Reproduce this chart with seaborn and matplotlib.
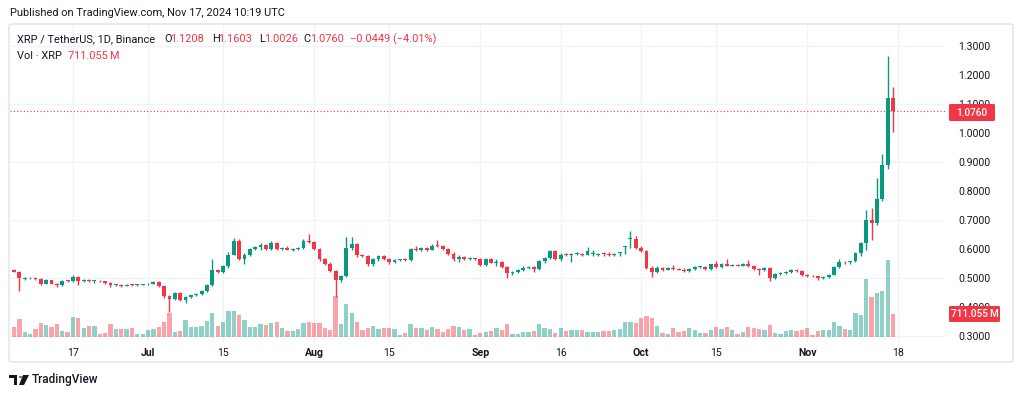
import numpy as np
import pandas as pd
import matplotlib
matplotlib.use('Agg')
import matplotlib.pyplot as plt
import matplotlib.transforms as mtransforms
from matplotlib.patches import FancyBboxPatch, Rectangle, Circle, Polygon
import seaborn as sns

# XRP / TetherUS daily candles, 6 Jun 2024 .. 17 Nov 2024
start_date = '2024-06-06'
opens = [
    # Jun 6-30
    .527, .522, .496, .499, .500, .496, .481, .492, .480, .475, .492, .490, .503, .491, .493, .489, .490, .488, .483, .476, .477, .473, .477, .476, .477,
    # Jul
    .478, .481, .487, .472, .437, .426, .449, .424, .435, .440, .444, .455, .476, .527, .521, .540, .581, .628, .566, .580, .600, .606, .613, .600, .621, .600, .603, .598, .601, .604, .628,
    # Aug
    .624, .600, .565, .550, .523, .494, .507, .602, .617, .579, .575, .547, .566, .575, .566, .555, .561, .565, .562, .601, .597, .602, .597, .612, .611, .601, .584, .565, .573, .566, .568,
    # Sep
    .566, .546, .566, .553, .556, .539, .516, .521, .527, .536, .539, .530, .558, .570, .593, .566, .581, .579, .582, .583, .580, .583, .579, .586, .584, .579, .586, .607, .636, .636,
    # Oct
    .604, .593, .536, .519, .536, .528, .535, .532, .529, .525, .532, .538, .539, .531, .547, .539, .548, .543, .546, .543, .548, .542, .531, .526, .535, .500, .514, .518, .521, .529, .524,
    # Nov 1-17
    .512, .508, .506, .500, .502, .512, .539, .556, .554, .558, .587, .620, .700, .688, .771, .890, 1.1208,
]
highs = [
    .531, .525, .502, .503, .503, .499, .496, .494, .483, .492, .494, .512, .506, .496, .497, .493, .492, .490, .485, .480, .479, .479, .481, .479, .480,
    .484, .490, .489, .474, .441, .452, .452, .438, .443, .447, .460, .480, .567, .532, .545, .590, .638, .636, .585, .604, .610, .620, .617, .627, .624, .606, .610, .604, .607, .633, .653,
    .627, .602, .568, .556, .527, .512, .642, .640, .620, .584, .580, .569, .578, .580, .570, .564, .567, .570, .603, .612, .606, .606, .616, .630, .614, .604, .588, .578, .577, .571, .570,
    .568, .569, .570, .565, .560, .542, .524, .530, .540, .543, .542, .562, .574, .596, .596, .585, .586, .585, .590, .586, .608, .595, .586, .588, .590, .587, .590, .610, .662, .645,
    .612, .598, .540, .540, .538, .537, .546, .535, .533, .535, .541, .542, .541, .550, .559, .552, .566, .550, .549, .551, .562, .546, .535, .538, .538, .516, .520, .524, .532, .531, .527,
    .514, .511, .508, .506, .515, .542, .567, .560, .560, .590, .625, .736, .742, .845, .927, 1.266, 1.1603,
]
lows = [
    .519, .455, .493, .496, .494, .476, .479, .478, .468, .474, .486, .486, .475, .487, .486, .484, .486, .481, .470, .472, .470, .471, .474, .474, .475,
    .476, .479, .468, .432, .384, .423, .420, .413, .432, .437, .441, .452, .474, .518, .518, .534, .578, .562, .548, .577, .596, .595, .596, .595, .596, .597, .595, .594, .598, .600, .620,
    .595, .560, .545, .519, .435, .485, .503, .595, .574, .572, .540, .540, .560, .562, .550, .551, .558, .560, .559, .592, .594, .593, .595, .606, .598, .580, .558, .556, .562, .561, .563,
    .542, .543, .553, .540, .535, .501, .512, .517, .524, .532, .520, .527, .553, .566, .562, .560, .575, .555, .578, .576, .578, .576, .575, .575, .575, .575, .576, .583, .603, .600,
    .588, .530, .505, .516, .525, .526, .527, .526, .521, .520, .529, .535, .527, .528, .535, .536, .540, .540, .541, .540, .539, .528, .512, .523, .488, .498, .511, .514, .518, .520, .508,
    .503, .502, .493, .496, .500, .510, .535, .548, .550, .555, .575, .598, .632, .682, .766, .875, 1.0026,
]
closes = [
    .522, .499, .499, .500, .496, .481, .492, .480, .475, .489, .490, .503, .491, .493, .489, .490, .488, .483, .476, .477, .473, .477, .476, .477, .478,
    .481, .487, .472, .437, .426, .449, .424, .435, .440, .444, .455, .476, .527, .521, .540, .581, .628, .566, .580, .600, .606, .613, .600, .621, .600, .603, .598, .601, .604, .628, .624,
    .600, .565, .550, .523, .494, .507, .602, .617, .579, .575, .547, .566, .575, .566, .555, .561, .565, .562, .601, .597, .602, .597, .612, .611, .601, .584, .565, .573, .566, .568, .566,
    .546, .566, .553, .556, .539, .516, .521, .527, .536, .539, .530, .558, .570, .593, .566, .581, .579, .582, .583, .580, .593, .583, .579, .584, .580, .579, .586, .607, .636, .604,
    .593, .536, .519, .536, .528, .535, .532, .529, .525, .532, .538, .539, .531, .547, .539, .548, .543, .545, .543, .548, .542, .531, .526, .535, .500, .514, .518, .521, .529, .524, .512,
    .508, .506, .500, .502, .512, .539, .556, .554, .558, .587, .620, .700, .688, .771, .890, 1.1208, 1.0760,
]
# volume in millions of XRP
volume = [
    300, 558, 165, 93, 248, 444, 372, 300, 392, 186, 165, 610, 579, 269, 341, 341, 93, 114, 392, 238, 238, 238, 279, 83, 83,
    217, 238, 320, 455, 733, 165, 186, 537, 300, 300, 351, 496, 754, 351, 455, 816, 816, 682, 527, 300, 300, 403, 372, 444, 475, 269, 186, 186, 238, 424, 475,
    444, 424, 269, 230, 1270, 403, 1012, 733, 475, 217, 269, 341, 248, 269, 269, 238, 62, 124, 392, 269, 269, 217, 300, 248, 165, 238, 341, 320, 217, 248, 62,
    114, 165, 186, 269, 217, 392, 93, 83, 165, 165, 186, 392, 269, 238, 114, 269, 186, 217, 217, 217, 145, 165, 165, 186, 186, 217, 238, 455, 455, 424,
    579, 651, 579, 351, 114, 93, 269, 165, 186, 289, 217, 114, 114, 217, 300, 238, 320, 217, 93, 145, 300, 269, 238, 217, 372, 134, 93, 186, 217, 186, 217,
    269, 62, 186, 217, 217, 475, 351, 248, 227, 733, 682, 1787, 1229, 1353, 1436, 2386, 711.055,
]

tick_dates = ['2024-06-17', '2024-07-01', '2024-07-15', '2024-08-01', '2024-08-15', '2024-09-01',
              '2024-09-16', '2024-10-01', '2024-10-15', '2024-11-01', '2024-11-18']
tick_labels = ['17', 'Jul', '15', 'Aug', '15', 'Sep', '16', 'Oct', '15', 'Nov', '18']
price_ticks = [0.3, 0.4, 0.5, 0.6, 0.7, 0.8, 0.9, 1.0, 1.1, 1.2, 1.3]
price_grid = [0.3, 0.5, 0.7, 0.9, 1.1, 1.3]

UP, DOWN = '#089981', '#f23645'
TXT = '#131722'
GRID = '#f0f3fa'

df = pd.DataFrame({'date': pd.date_range(start_date, periods=len(closes), freq='D'),
                   'open': opens, 'high': highs, 'low': lows, 'close': closes, 'vol': volume})
df['i'] = (df['date'] - df['date'].iloc[0]).dt.days
df['dir'] = np.where(df['close'] >= df['open'], 'up', 'down')
tick_pos = [(pd.Timestamp(d) - df['date'].iloc[0]).days for d in tick_dates]

sns.set_theme(style='white')
plt.rcParams['font.family'] = ['Roboto', 'DejaVu Sans']

W, H = 1024, 396
fig = plt.figure(figsize=(W / 100, H / 100), dpi=100)
fig.patch.set_facecolor('white')


def fx(px):
    return px / W


def fy(py):
    return 1 - py / H


rect = [fx(10), fy(343), fx(945) - fx(10), fy(25) - fy(343)]
ax_vol = fig.add_axes(rect)
ax = fig.add_axes(rect, sharex=ax_vol)
ax.patch.set_alpha(0)

# volume pane
sns.barplot(data=df, x='i', y='vol', hue='dir', palette={'up': UP, 'down': DOWN},
            native_scale=True, dodge=False, width=0.8, errorbar=None, legend=False,
            alpha=0.45, linewidth=0, saturation=1, ax=ax_vol)
ax_vol.set_ylim(-6 * 31, 312 * 31)
ax_vol.set_xlabel('')
ax_vol.set_ylabel('')
ax_vol.tick_params(left=False, bottom=False, labelleft=False, labelbottom=False)

# grid lines go behind everything, on the bottom axes
for t in tick_pos:
    ax_vol.axvline(t, color=GRID, lw=1, zorder=0)
hgrid = mtransforms.blended_transform_factory(ax_vol.transAxes, ax.transData)
for g in price_grid:
    ax_vol.plot([0, 1], [g, g], color=GRID, lw=1, transform=hgrid, zorder=0)

# candles
colors = np.where(df['dir'] == 'up', UP, DOWN)
ax.vlines(df['i'], df['low'], df['high'], color=colors, lw=1, zorder=3)
body = np.maximum((df['close'] - df['open']).abs(), 0.0025)
ax.bar(df['i'], body, bottom=np.minimum(df['open'], df['close']), width=0.72,
       color=colors, linewidth=0, zorder=4)
ax.axhline(closes[-1], color=DOWN, lw=0.8, ls=(0, (1, 2)), zorder=2)

ax.set_xlim(-0.75, 173.7)
ax.set_ylim(1 - (343 - 133) / 290, 1 + (133 - 25) / 290)
ax.set_xticks(tick_pos)
ax.set_xticklabels(tick_labels)
for lab, txt in zip(ax.get_xticklabels(), tick_labels):
    if not txt.isdigit():
        lab.set_fontweight('bold')
ax.yaxis.tick_right()
ax.set_yticks(price_ticks)
ax.set_yticklabels([f'{v:.4f}' for v in price_ticks])
ax.tick_params(axis='both', length=0, labelsize=7.6, labelcolor=TXT)
ax.tick_params(axis='y', pad=9.5)
ax.tick_params(axis='x', pad=3.5)
for a in (ax, ax_vol):
    for s in a.spines.values():
        s.set_visible(False)

# frame around the chart
fig.patches.append(FancyBboxPatch((fx(9), fy(362)), fx(1013) - fx(9), fy(24) - fy(362),
                                  boxstyle='round,pad=0,rounding_size=0.004', transform=fig.transFigure,
                                  facecolor='none', edgecolor='#e0e3eb', lw=1, zorder=1))

# header
fig.text(fx(10), fy(13), 'Published on TradingView.com, Nov 17, 2024 10:19 UTC',
         fontsize=7.9, color=TXT, va='center', ha='left')
legend_parts = [(17, 'XRP / TetherUS, 1D, Binance', TXT),
                (164, 'O', TXT), (170, '1.1208', DOWN),
                (212, 'H', TXT), (218, '1.1603', DOWN),
                (259, 'L', TXT), (264, '1.0026', DOWN),
                (303, 'C', TXT), (310, '1.0760', DOWN),
                (350, '\u22120.0449 (\u22124.01%)', DOWN)]
for x, s, c in legend_parts:
    fig.text(fx(x), fy(39), s, fontsize=7.9, color=c, va='center', ha='left')
fig.text(fx(17), fy(56), 'Vol \u00b7 XRP', fontsize=7.9, color=TXT, va='center', ha='left')
fig.text(fx(68), fy(56), '711.055\u2009M', fontsize=7.9, color=DOWN, va='center', ha='left')

# last price / volume labels on the scale
for (x0, y0, x1, y1, s) in [(949, 104, 995, 121, '1.0760'), (949, 306, 1000, 322, '711.055\u2009M')]:
    fig.patches.append(FancyBboxPatch((fx(x0), fy(y1)), fx(x1) - fx(x0), fy(y0) - fy(y1),
                                      boxstyle='round,pad=0,rounding_size=0.002', transform=fig.transFigure,
                                      facecolor=DOWN, edgecolor='none', zorder=5))
    fig.text(fx((x0 + x1) / 2), fy((y0 + y1) / 2), s, fontsize=7.2, color='white',
             fontweight='medium', va='center', ha='center', zorder=6)

# TradingView logo at the bottom
logo = [Rectangle((fx(9), fy(378)), fx(17) - fx(9), fy(375) - fy(378)),
        Rectangle((fx(13.5), fy(385)), fx(17) - fx(13.5), fy(375) - fy(385)),
        Circle((fx(20.5), fy(377)), fx(1.7)),
        Polygon([(fx(23), fy(375)), (fx(29), fy(375)), (fx(24), fy(385)), (fx(19), fy(385))])]
for p in logo:
    p.set_transform(fig.transFigure)
    p.set_facecolor(TXT)
    p.set_edgecolor('none')
    fig.patches.append(p)
fig.text(fx(32), fy(380), 'TradingView', fontsize=8.5, color=TXT, fontweight='medium',
         va='center', ha='left')

fig.savefig('out.png', dpi=100, facecolor='white')
